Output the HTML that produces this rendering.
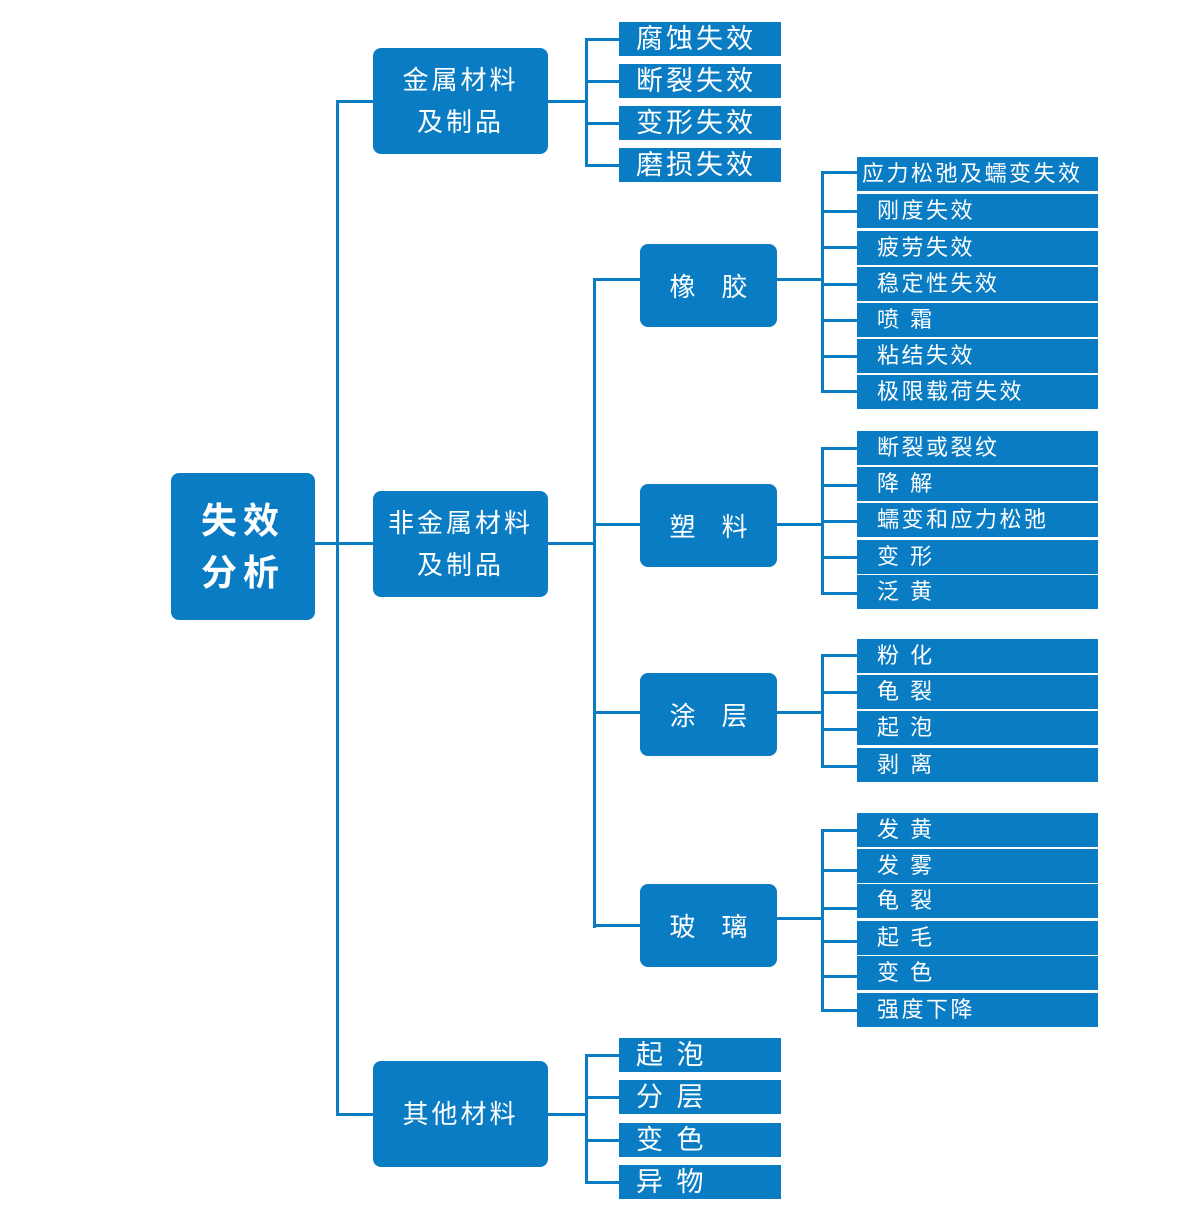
<!DOCTYPE html>
<html><head><meta charset="utf-8"><style>
body{margin:0;width:1200px;height:1205px;background:#fff;position:relative;overflow:hidden;font-family:"Liberation Sans","Noto Sans CJK SC",sans-serif;}
div{position:absolute;box-sizing:border-box;}
.b{background:#0a7cc4;color:#fff;}
.r{border-radius:8px;display:flex;align-items:center;justify-content:center;text-align:center;}
.l1{left:373px;width:175px;height:106px;font-size:26px;line-height:42px;letter-spacing:3px;}
.l2{left:640px;width:137px;height:83px;font-size:26px;letter-spacing:0;}
.lf{color:#fff;background:#0a7cc4;white-space:pre;}
.m{left:619px;width:162px;height:34px;font-size:27px;line-height:34px;padding-left:17px;letter-spacing:3px;}
.s{left:857px;width:241px;height:34px;font-size:22px;line-height:34px;padding-left:20px;letter-spacing:2.5px;}
.h{background:#0a7cc4;height:3px;}
.v{background:#0a7cc4;width:3px;}
</style></head><body>
<div class="b r" style="left:171px;top:473px;width:144px;height:147px;font-size:36px;font-weight:bold;line-height:52px;letter-spacing:6px;">失效<br>分析</div>
<div class="h" style="left:315px;top:542px;width:22px;"></div>
<div class="v" style="left:336px;top:100px;height:1016px;"></div>
<div class="h" style="left:336px;top:100px;width:37px;"></div>
<div class="h" style="left:336px;top:542px;width:37px;"></div>
<div class="h" style="left:336px;top:1113px;width:37px;"></div>

<div class="b r l1" style="top:48px;">金属材料<br>及制品</div>
<div class="b r l1" style="top:491px;">非金属材料<br>及制品</div>
<div class="b r l1" style="top:1061px;">其他材料</div>

<div class="h" style="left:548px;top:100px;width:38px;"></div>
<div class="v" style="left:585px;top:38px;height:129px;"></div>
<div class="h" style="left:585px;top:38px;width:34px;"></div>
<div class="h" style="left:585px;top:80px;width:34px;"></div>
<div class="h" style="left:585px;top:122px;width:34px;"></div>
<div class="h" style="left:585px;top:164px;width:34px;"></div>
<div class="lf m" style="top:22px;">腐蚀失效</div>
<div class="lf m" style="top:64px;">断裂失效</div>
<div class="lf m" style="top:106px;">变形失效</div>
<div class="lf m" style="top:148px;">磨损失效</div>

<div class="h" style="left:548px;top:1113px;width:38px;"></div>
<div class="v" style="left:585px;top:1054px;height:130px;"></div>
<div class="h" style="left:585px;top:1054px;width:34px;"></div>
<div class="h" style="left:585px;top:1096px;width:34px;"></div>
<div class="h" style="left:585px;top:1139px;width:34px;"></div>
<div class="h" style="left:585px;top:1181px;width:34px;"></div>
<div class="lf m" style="top:1038px;">起 泡</div>
<div class="lf m" style="top:1080px;">分 层</div>
<div class="lf m" style="top:1123px;">变 色</div>
<div class="lf m" style="top:1165px;">异 物</div>

<div class="h" style="left:548px;top:542px;width:46px;"></div>
<div class="v" style="left:593px;top:278px;height:650px;"></div>
<div class="h" style="left:593px;top:278px;width:47px;"></div>
<div class="h" style="left:593px;top:523px;width:47px;"></div>
<div class="h" style="left:593px;top:711px;width:47px;"></div>
<div class="h" style="left:593px;top:924px;width:47px;"></div>
<div class="b r l2" style="top:244px;">橡　胶</div>
<div class="b r l2" style="top:484px;">塑　料</div>
<div class="b r l2" style="top:673px;">涂　层</div>
<div class="b r l2" style="top:884px;">玻　璃</div>

<div class="h" style="left:777px;top:278px;width:46px;"></div>
<div class="v" style="left:821px;top:171px;height:222px;"></div>
<div class="h" style="left:821px;top:171px;width:36px;"></div>
<div class="h" style="left:821px;top:210px;width:36px;"></div>
<div class="h" style="left:821px;top:246px;width:36px;"></div>
<div class="h" style="left:821px;top:283px;width:36px;"></div>
<div class="h" style="left:821px;top:319px;width:36px;"></div>
<div class="h" style="left:821px;top:355px;width:36px;"></div>
<div class="h" style="left:821px;top:390px;width:36px;"></div>
<div class="lf s" style="top:157px;padding-left:5px;">应力松弛及蠕变失效</div>
<div class="lf s" style="top:194px;">刚度失效</div>
<div class="lf s" style="top:231px;">疲劳失效</div>
<div class="lf s" style="top:267px;">稳定性失效</div>
<div class="lf s" style="top:303px;">喷 霜</div>
<div class="lf s" style="top:339px;">粘结失效</div>
<div class="lf s" style="top:375px;">极限载荷失效</div>

<div class="h" style="left:777px;top:523px;width:46px;"></div>
<div class="v" style="left:821px;top:447px;height:148px;"></div>
<div class="h" style="left:821px;top:447px;width:36px;"></div>
<div class="h" style="left:821px;top:484px;width:36px;"></div>
<div class="h" style="left:821px;top:520px;width:36px;"></div>
<div class="h" style="left:821px;top:556px;width:36px;"></div>
<div class="h" style="left:821px;top:592px;width:36px;"></div>
<div class="lf s" style="top:431px;">断裂或裂纹</div>
<div class="lf s" style="top:467px;">降 解</div>
<div class="lf s" style="top:503px;">蠕变和应力松弛</div>
<div class="lf s" style="top:540px;">变 形</div>
<div class="lf s" style="top:575px;">泛 黄</div>

<div class="h" style="left:777px;top:711px;width:46px;"></div>
<div class="v" style="left:821px;top:654px;height:114px;"></div>
<div class="h" style="left:821px;top:654px;width:36px;"></div>
<div class="h" style="left:821px;top:691px;width:36px;"></div>
<div class="h" style="left:821px;top:728px;width:36px;"></div>
<div class="h" style="left:821px;top:765px;width:36px;"></div>
<div class="lf s" style="top:639px;">粉 化</div>
<div class="lf s" style="top:675px;">龟 裂</div>
<div class="lf s" style="top:711px;">起 泡</div>
<div class="lf s" style="top:748px;">剥 离</div>

<div class="h" style="left:777px;top:917px;width:46px;"></div>
<div class="v" style="left:821px;top:829px;height:183px;"></div>
<div class="h" style="left:821px;top:829px;width:36px;"></div>
<div class="h" style="left:821px;top:869px;width:36px;"></div>
<div class="h" style="left:821px;top:907px;width:36px;"></div>
<div class="h" style="left:821px;top:940px;width:36px;"></div>
<div class="h" style="left:821px;top:975px;width:36px;"></div>
<div class="h" style="left:821px;top:1009px;width:36px;"></div>
<div class="lf s" style="top:813px;">发 黄</div>
<div class="lf s" style="top:849px;">发 雾</div>
<div class="lf s" style="top:884px;">龟 裂</div>
<div class="lf s" style="top:921px;">起 毛</div>
<div class="lf s" style="top:956px;">变 色</div>
<div class="lf s" style="top:993px;">强度下降</div>
</body></html>
